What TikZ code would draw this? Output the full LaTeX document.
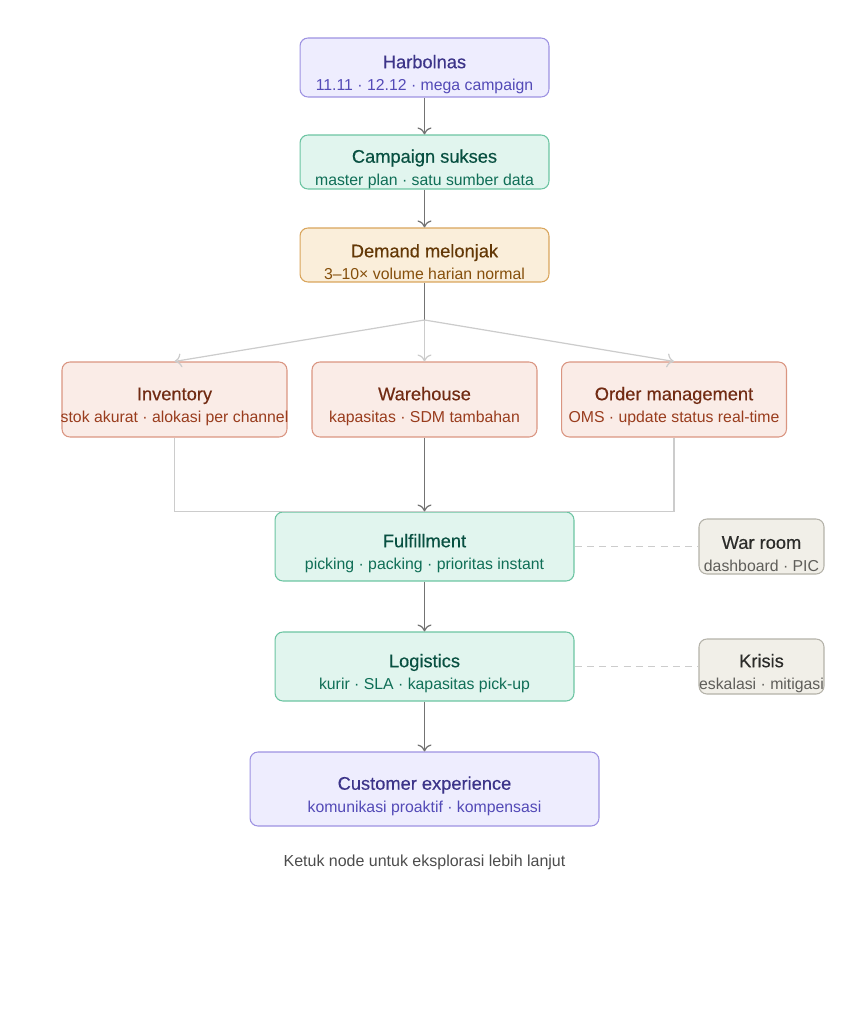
\documentclass[tikz,border=0pt]{standalone}
\usepackage{fontspec}
\setmainfont{Liberation Sans}
\newfontface\titleface{Liberation Sans}[FakeBold=0.35]
\usetikzlibrary{arrows.meta}

\definecolor{purpfill}{HTML}{EEEDFE}
\definecolor{purpdraw}{HTML}{9D92E2}
\definecolor{purptext}{HTML}{3C3489}
\definecolor{purpsub}{HTML}{534AB7}
\definecolor{greenfill}{HTML}{E1F5EE}
\definecolor{greendraw}{HTML}{6CC4A2}
\definecolor{greentext}{HTML}{085041}
\definecolor{greensub}{HTML}{0F6E56}
\definecolor{ambfill}{HTML}{FAEEDA}
\definecolor{ambdraw}{HTML}{D9A55C}
\definecolor{ambtext}{HTML}{633806}
\definecolor{ambsub}{HTML}{854F0B}
\definecolor{redfill}{HTML}{FAECE7}
\definecolor{reddraw}{HTML}{DA9581}
\definecolor{redtext}{HTML}{712B13}
\definecolor{redsub}{HTML}{993C1D}
\definecolor{grayfill}{HTML}{F1EFE8}
\definecolor{graydraw}{HTML}{B4B2A9}
\definecolor{graytext}{HTML}{2C2C2A}
\definecolor{graysub}{HTML}{5F5E5A}

\newcommand{\ttl}[1]{{\titleface\fontsize{10.4}{12.8}\selectfont\rule{0pt}{15.5pt}#1}}
\newcommand{\sub}[2]{{\fontsize{9}{12.8}\selectfont\color{#1}\makebox[0pt]{#2}}}

\begin{document}
\begin{tikzpicture}[x=0.02cm, y=-0.02cm, ->, >={To[length=4pt,width=8pt]}, draw=black!50]
      \tikzstyle{box}=[rectangle, rounded corners=4.5pt, line width=0.6pt, align=center, inner sep=0pt, font=\fontsize{9}{12.8}\selectfont]
      \tikzstyle{purplebox}=[box, fill=purpfill, draw=purpdraw, text=purptext]
      \tikzstyle{greenbox}=[box, fill=greenfill, draw=greendraw, text=greentext]
      \tikzstyle{amberbox}=[box, fill=ambfill, draw=ambdraw, text=ambtext]
      \tikzstyle{redbox}=[box, fill=redfill, draw=reddraw, text=redtext, minimum width=4.5cm, minimum height=1.5cm]
      \tikzstyle{graybox}=[box, fill=grayfill, draw=graydraw, text=graytext, minimum width=2.5cm, minimum height=1.1cm]
      \tikzstyle{main}=[->, draw=black!55, line width=0.7pt]
      \tikzstyle{light}=[draw=black!20, line width=0.7pt]
      \tikzstyle{link}=[-, draw=black!20, line width=0.6pt, dashed, dash pattern=on 4pt off 3pt]

      \useasboundingbox (0,0) rectangle (849,1024);

      \node[purplebox, minimum width=4.98cm, minimum height=1.18cm] (harb) at (424.5,67.5) {\ttl{Harbolnas}\\\sub{purpsub}{11.11 · 12.12 · mega campaign}};
      \node[greenbox, minimum width=4.98cm, minimum height=1.08cm] (camp) at (424.5,162) {\ttl{Campaign sukses}\\\sub{greensub}{master plan · satu sumber data}};
      \node[amberbox, minimum width=4.98cm, minimum height=1.08cm] (dem) at (424.5,255) {\ttl{Demand melonjak}\\\sub{ambsub}{3–10× volume harian normal}};
      \coordinate (split) at (424.5,320);

      \node[redbox] (inv) at (174.5,399.5) {\ttl{Inventory}\\\sub{redsub}{stok akurat · alokasi per channel}};
      \node[redbox] (wh) at (424.5,399.5) {\ttl{Warehouse}\\\sub{redsub}{kapasitas · SDM tambahan}};
      \node[redbox] (oms) at (674,399.5) {\ttl{Order management}\\\sub{redsub}{OMS · update status real-time}};

      \node[greenbox, minimum width=5.98cm, minimum height=1.38cm] (ful) at (424.5,546.5) {\ttl{Fulfillment}\\\sub{greensub}{picking · packing · prioritas instant}};
      \node[graybox] (war) at (761.5,546.5) {\ttl{War room}\\\sub{graysub}{dashboard · PIC}};
      \node[greenbox, minimum width=5.98cm, minimum height=1.38cm] (log) at (424.5,666.5) {\ttl{Logistics}\\\sub{greensub}{kurir · SLA · kapasitas pick-up}};
      \node[graybox] (kri) at (761.5,666.5) {\ttl{Krisis}\\\sub{graysub}{eskalasi · mitigasi}};
      \node[purplebox, minimum width=6.98cm, minimum height=1.48cm] (cx) at (424.5,789) {\ttl{Customer experience}\\\sub{purpsub}{komunikasi proaktif · kompensasi}};

      \node[font=\fontsize{9.1}{11}\selectfont, text=black!70] (note) at (424.5,862) {Ketuk node untuk eksplorasi lebih lanjut};

      \draw[main] (harb) -- (camp);
      \draw[main] (camp) -- (dem);
      \draw[main, -] (dem) -- (split);
      \draw[light, ->] (split) -- (inv.north);
      \draw[light, ->] (split) -- (wh.north);
      \draw[light, ->] (split) -- (oms.north);
      \draw[light, -] (inv.south) |- (ful.north);
      \draw[light, -] (oms.south) |- (ful.north);
      \draw[main] (wh) -- (ful);
      \draw[main] (ful) -- (log);
      \draw[main] (log) -- (cx);
      \draw[link] (ful) -- (war);
      \draw[link] (log) -- (kri);
  \end{tikzpicture}
\end{document}
